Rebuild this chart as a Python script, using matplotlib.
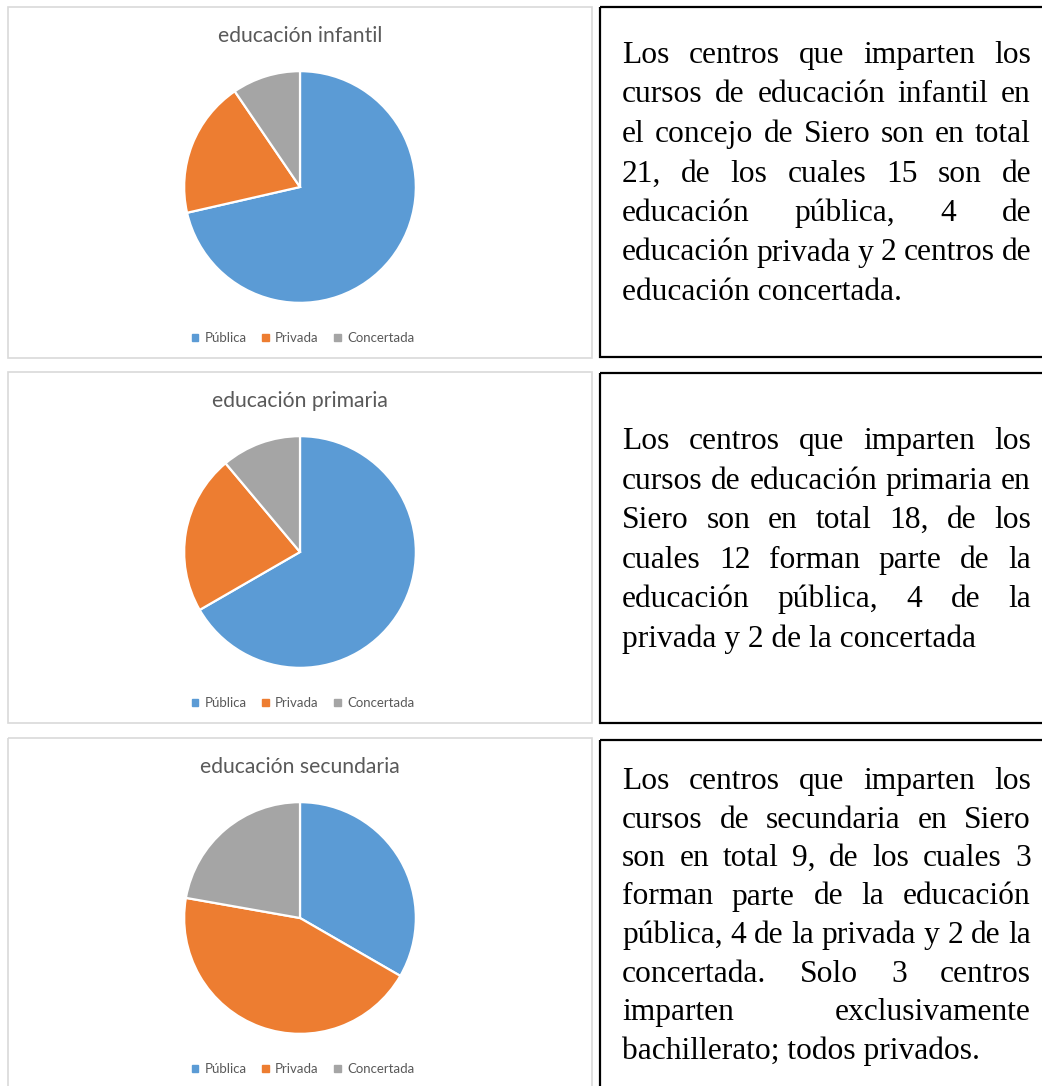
import matplotlib
matplotlib.use('Agg')
import matplotlib.pyplot as plt
import matplotlib.patches as mpatches

# Centros educativos en Siero: publica / privada / concertada

## DATOS
categorias = ['Pública', 'Privada', 'Concertada']
colores = ['#5B9BD5', '#ED7D31', '#A5A5A5']

titulos = ['educación infantil', 'educación primaria', 'educación secundaria']
infantil = [15, 4, 2]
primaria = [12, 4, 2]
secundaria = [3, 4, 2]

texto_infantil = [
    'Los centros que imparten los',
    'cursos de educación infantil en',
    'el concejo de Siero son en total',
    '21, de los cuales 15 son de',
    'educación pública, 4 de',
    'educación privada y 2 centros de',
    'educación concertada.',
]
texto_primaria = [
    'Los centros que imparten los',
    'cursos de educación primaria en',
    'Siero son en total 18, de los',
    'cuales 12 forman parte de la',
    'educación pública, 4 de la',
    'privada y 2 de la concertada',
]
texto_secundaria = [
    'Los centros que imparten los',
    'cursos de secundaria en Siero',
    'son en total 9, de los cuales 3',
    'forman parte de la educación',
    'pública, 4 de la privada y 2 de la',
    'concertada. Solo 3 centros',
    'imparten exclusivamente',
    'bachillerato; todos privados.',
]

## LAYOUT (pixeles)
W, H = 1042, 1086
paneles_top = [7, 372, 738]
paneles_bottom = [358, 723, 1095]
cajas_top = [7, 373, 740]
cajas_bottom = [357, 723, 1095]
baseline0 = [63, 449, 789]
interlinea = [39.5, 39.6, 38.5]
txt_left, txt_right = 622, 1031
fs_texto = 22.7
gris = '#595959'

fig = plt.figure(figsize=(W / 100, H / 100), dpi=100)
fig.patch.set_facecolor('white')
bg = fig.add_axes([0, 0, 1, 1])
bg.set_xlim(0, W)
bg.set_ylim(H, 0)
bg.axis('off')
renderer = fig.canvas.get_renderer()

datos = [infantil, primaria, secundaria]
textos = [texto_infantil, texto_primaria, texto_secundaria]

for k in range(3):
    top = paneles_top[k]
    # marco gris del grafico
    bg.add_patch(mpatches.Rectangle((8, top), 584, paneles_bottom[k] - top,
                                    fill=False, edgecolor='#D9D9D9', linewidth=1.2))
    # marco negro del texto
    bg.add_patch(mpatches.Rectangle((600, cajas_top[k]), 460, cajas_bottom[k] - cajas_top[k],
                                    fill=False, edgecolor='black', linewidth=1.6))

    # titulo
    bg.text(300, top + 29, titulos[k], ha='center', va='center', fontsize=15.2,
            family='Lato', color=gris)

    # tarta
    cx, cy, r = 300, top + 180, 117
    ax = fig.add_axes([(cx - r) / W, 1 - (cy + r) / H, 2 * r / W, 2 * r / H])
    ax.pie(datos[k], colors=colores, startangle=90, counterclock=False,
           wedgeprops={'edgecolor': 'white', 'linewidth': 1.6})
    ax.set_xlim(-1.01, 1.01)
    ax.set_ylim(-1.01, 1.01)
    ax.set_aspect('equal')

    handles = [mpatches.Patch(color=c, label=l) for c, l in zip(colores, categorias)]
    leg = ax.legend(handles=handles, loc='center', bbox_to_anchor=(303, top + 331),
                    bbox_transform=bg.transData, ncol=3, frameon=False,
                    prop={'family': 'Lato', 'size': 9.5}, handlelength=0.5,
                    handleheight=0.5, handletextpad=0.45, columnspacing=1.2)
    for t in leg.get_texts():
        t.set_color(gris)

    # texto justificado
    lineas = textos[k]
    for i, linea in enumerate(lineas):
        y = baseline0[k] + i * interlinea[k]
        palabras = linea.split()
        if i == len(lineas) - 1 or len(palabras) == 1:
            bg.text(txt_left, y, linea, ha='left', va='baseline', fontsize=fs_texto,
                    family='Liberation Serif', color='black')
            continue
        objs = []
        anchos = []
        for p in palabras:
            t = bg.text(txt_left, y, p, ha='left', va='baseline', fontsize=fs_texto,
                        family='Liberation Serif', color='black')
            objs.append(t)
            anchos.append(t.get_window_extent(renderer).width)
        hueco = (txt_right - txt_left - sum(anchos)) / (len(palabras) - 1)
        x = txt_left
        for t, a in zip(objs, anchos):
            t.set_x(x)
            x += a + hueco

fig.savefig('out.png', dpi=100)
